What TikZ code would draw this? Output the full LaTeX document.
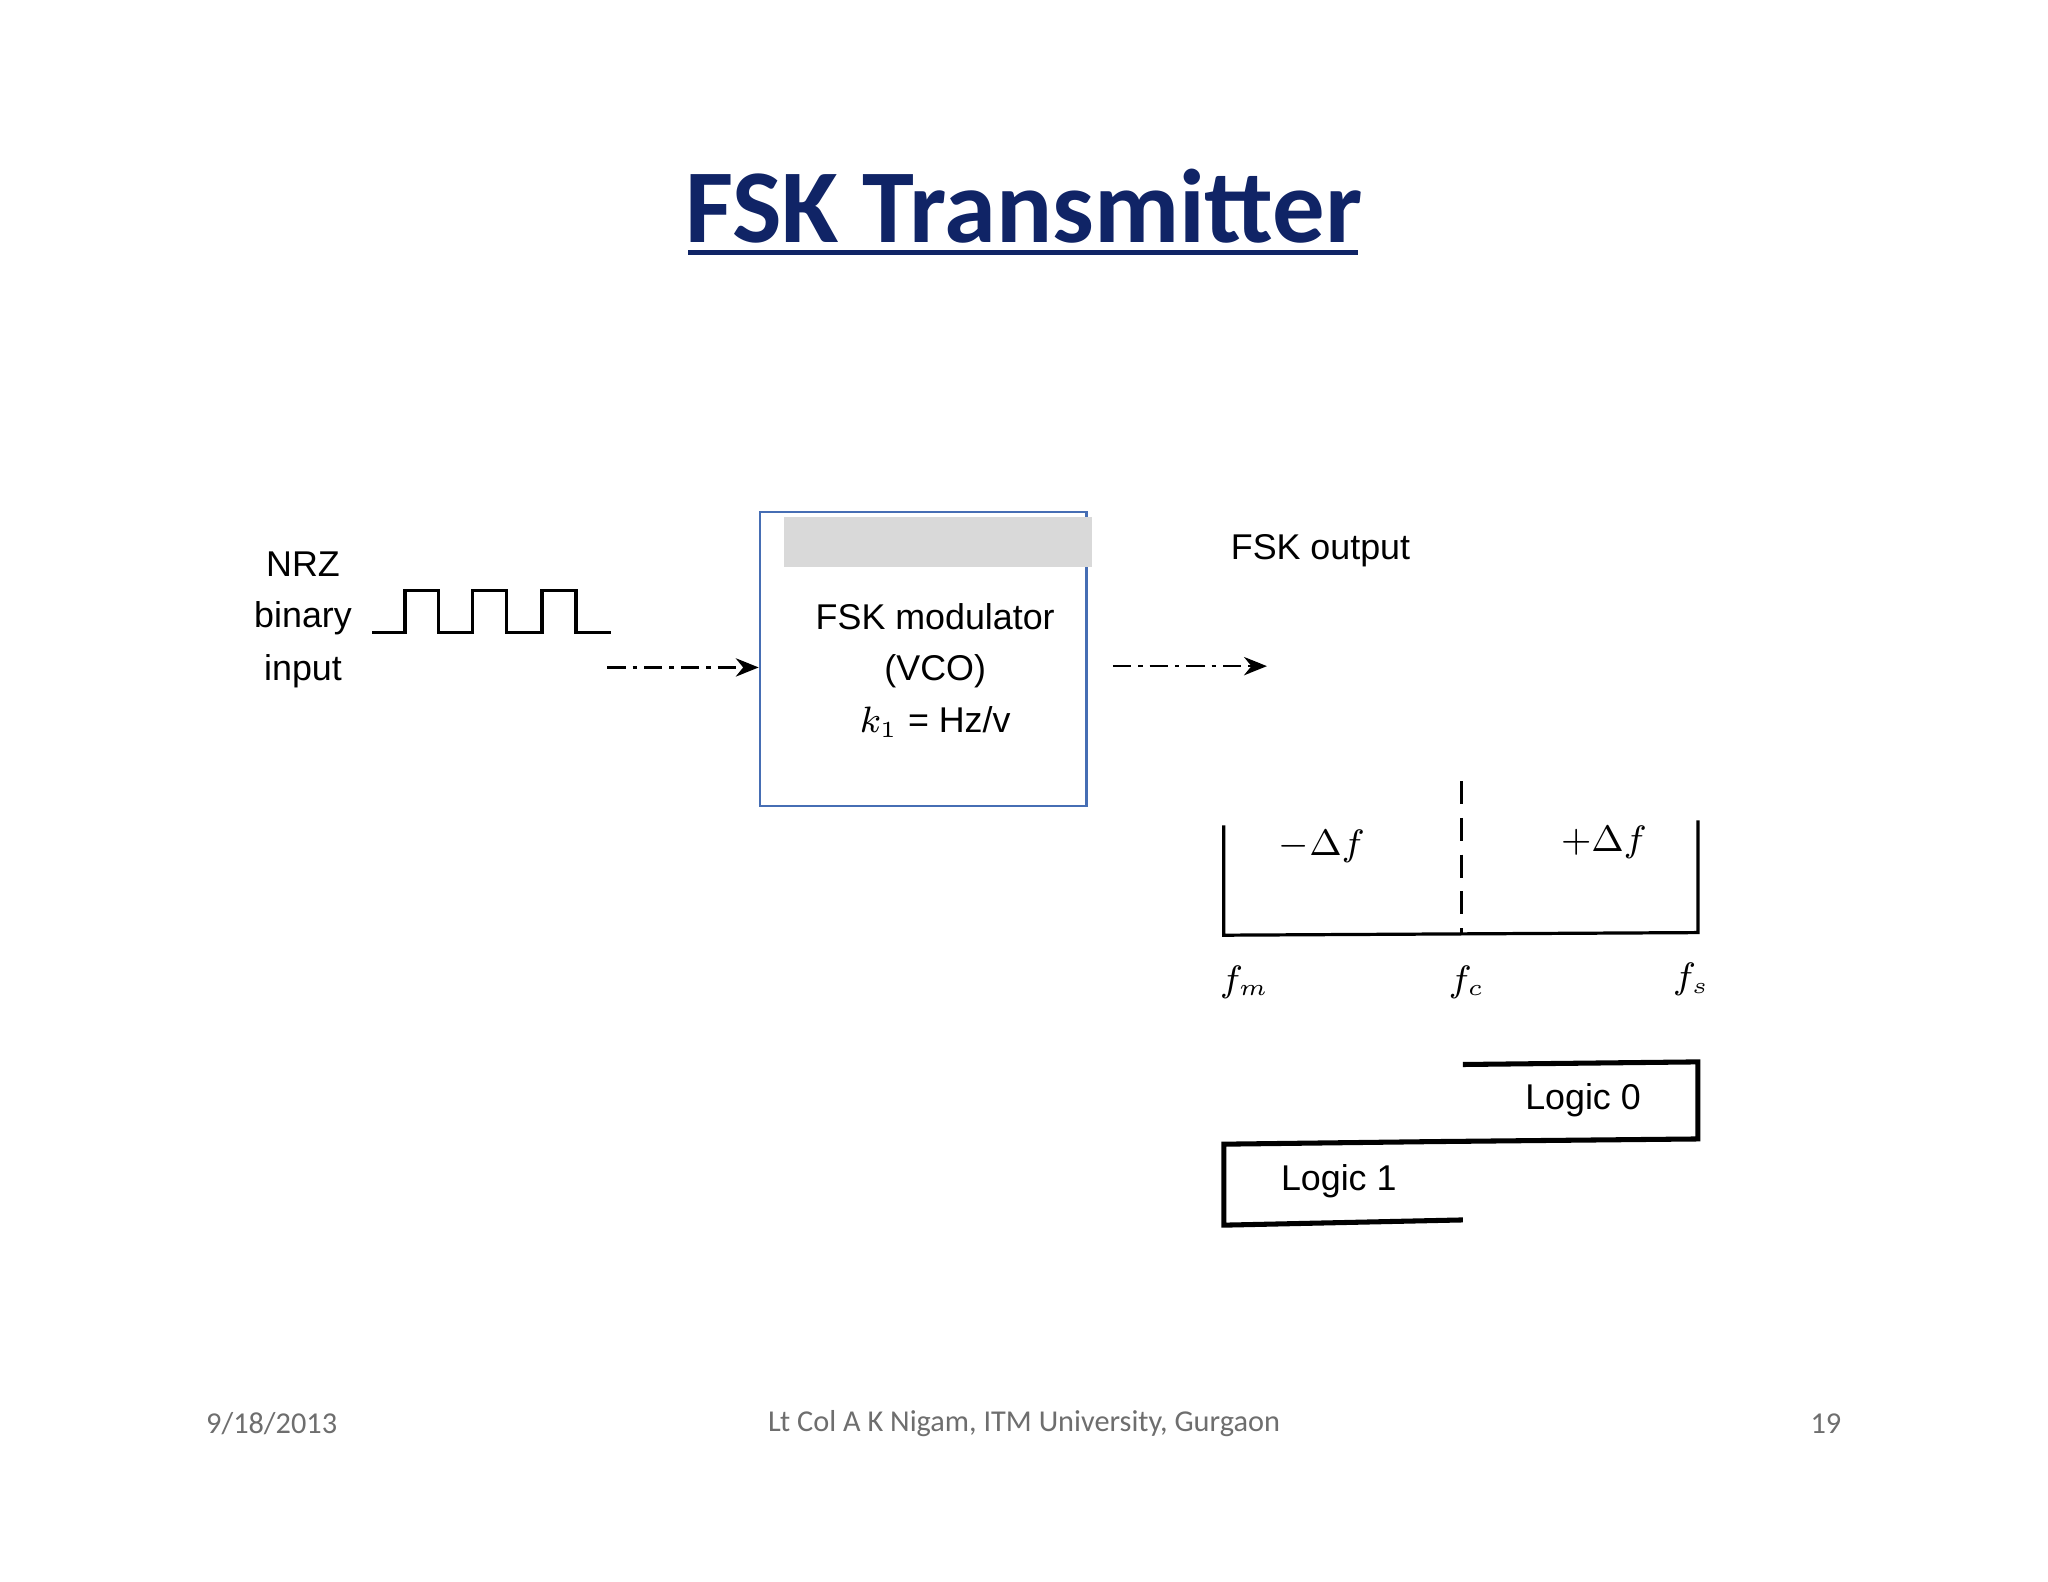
\documentclass[tikz,border=0pt]{standalone}
\usepackage{fontspec}
\setmainfont{Liberation Sans}
\newfontfamily\calib{Carlito}
\usetikzlibrary{arrows.meta}
\definecolor{navy}{RGB}{16,36,102}
\definecolor{boxblue}{RGB}{70,110,180}
\definecolor{foot}{RGB}{110,110,110}
\tikzset{lbl/.style={font=\fontsize{7.8pt}{9pt}\selectfont,inner sep=0pt},
 conn/.style={line width=0.5pt,dash pattern=on 4pt off 1.5pt on 1pt off 1.5pt,-{Stealth[length=5pt,width=4pt]}},
 ln/.style={line width=0.7pt},
 ft/.style={font=\calib\fontsize{6.6pt}{7pt}\selectfont,text=foot,inner sep=0pt}}
\begin{document}
\begin{tikzpicture}[x=0.01cm,y=-0.01cm]
\useasboundingbox (0,0) rectangle (1568,1211);
\fill[white] (0,0) rectangle (1568,1211);
% title
\node[font=\calib\bfseries\fontsize{22.8pt}{26pt}\selectfont,text=navy,inner sep=0pt] (title) at (784,158) {FSK Transmitter};
\draw[navy,line width=1.1pt] (527,193) -- (1040,193);
% input
\node[lbl] (nrz) at (232,432) {NRZ};
\node[lbl] (bin) at (232,473) {binary};
\node[lbl] (inp) at (232,514) {input};
\draw[ln] (285,484) -- (310,484) -- (310,452) -- (336,452) -- (336,484) -- (362,484) -- (362,452) -- (388,452) -- (388,484) -- (415,484) -- (415,452) -- (441,452) -- (441,484) -- (468,484);
% modulator
\node[draw=boxblue,line width=0.6pt,minimum width=2.5cm,minimum height=2.25cm,inner sep=0pt] (mod) at (707,504.5) {};
\fill[gray!30] (600,396) rectangle (836,434);
\node[lbl] (m1) at (716,472) {FSK modulator};
\node[lbl] (m2) at (716,514) {(VCO)};
\node[lbl] (m3) at (716,553) {$k_1$ = Hz/v};
\coordinate (inS) at (465,511);
\draw[conn] (inS) -- (mod.west |- inS);
\coordinate (outS) at (852,510);
\coordinate (outE) at (970,510);
\draw[conn] (outS) -- (outE);
\node[lbl] (fo) at (1011,422) {FSK output};
% spectrum
\draw[ln] (937,632) -- (937,716) -- (1300,714) -- (1300,628);
\draw[ln,dash pattern=on 5pt off 3pt] (1119,598) -- (1119,714);
\node[lbl] (mdf) at (1012,648) {$-\Delta f$};
\node[lbl] (pdf) at (1228,645) {$+\Delta f$};
\node[lbl] (fm) at (953,752) {$f_m$};
\node[lbl] (fc) at (1123,752) {$f_c$};
\node[lbl] (fs) at (1295,750) {$f_s$};
% logic boxes
\draw[line width=1.1pt] (1120,815) -- (1300,813) -- (1300,872) -- (1100,874) -- (937,876) -- (937,938) -- (1120,934);
\node[lbl] (l0) at (1212,842) {Logic 0};
\node[lbl] (l1) at (1025,904) {Logic 1};
% footer
\node[ft] (d) at (208,1090) {9/18/2013};
\node[ft] (a) at (784,1090) {Lt Col A K Nigam, ITM University, Gurgaon};
\node[ft] (p) at (1398,1090) {19};
\end{tikzpicture}
\end{document}
